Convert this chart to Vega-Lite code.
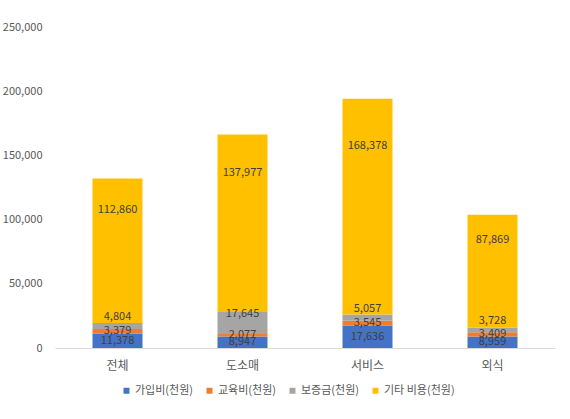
{
  "$schema": "https://vega.github.io/schema/vega-lite/v6.json",
  "width": 500,
  "height": 333,
  "autosize": {"type": "none"},
  "padding": {"left": 55, "top": 15, "right": 15, "bottom": 71},
  "background": "white",
  "config": {
    "font": "Noto Sans CJK KR",
    "view": {"stroke": null}
  },
  "data": {
    "values": [
      {"category": "전체", "series": "가입비(천원)", "order": 1, "value": 11378},
      {"category": "전체", "series": "교육비(천원)", "order": 2, "value": 3379},
      {"category": "전체", "series": "보증금(천원)", "order": 3, "value": 4804},
      {"category": "전체", "series": "기타 비용(천원)", "order": 4, "value": 112860},
      {"category": "도소매", "series": "가입비(천원)", "order": 1, "value": 8947},
      {"category": "도소매", "series": "교육비(천원)", "order": 2, "value": 2077},
      {"category": "도소매", "series": "보증금(천원)", "order": 3, "value": 17645},
      {"category": "도소매", "series": "기타 비용(천원)", "order": 4, "value": 137977},
      {"category": "서비스", "series": "가입비(천원)", "order": 1, "value": 17636},
      {"category": "서비스", "series": "교육비(천원)", "order": 2, "value": 3545},
      {"category": "서비스", "series": "보증금(천원)", "order": 3, "value": 5057},
      {"category": "서비스", "series": "기타 비용(천원)", "order": 4, "value": 168378},
      {"category": "외식", "series": "가입비(천원)", "order": 1, "value": 8959},
      {"category": "외식", "series": "교육비(천원)", "order": 2, "value": 3409},
      {"category": "외식", "series": "보증금(천원)", "order": 3, "value": 3728},
      {"category": "외식", "series": "기타 비용(천원)", "order": 4, "value": 87869}
    ]
  },
  "transform": [
    {"stack": "value", "groupby": ["category"], "sort": [{"field": "order", "order": "ascending"}], "as": ["y0", "y1"]},
    {"calculate": "datum.order == 4 ? datum.y0 + 0.78 * (datum.y1 - datum.y0) : (datum.y0 + datum.y1) / 2", "as": "labelPos"}
  ],
  "encoding": {
    "x": {
      "field": "category",
      "type": "nominal",
      "sort": ["전체", "도소매", "서비스", "외식"],
      "scale": {"paddingInner": 0.6, "paddingOuter": 0.3},
      "axis": {
        "title": null,
        "labelAngle": 0,
        "labelFontSize": 12,
        "labelColor": "#595959",
        "labelPadding": 12,
        "ticks": false,
        "domainColor": "#d9d9d9",
        "domainWidth": 1
      }
    }
  },
  "layer": [
    {
      "mark": {"type": "bar"},
      "encoding": {
        "y": {
          "field": "y0",
          "type": "quantitative",
          "scale": {"domain": [0, 250000]},
          "axis": {
            "title": null,
            "values": [0, 50000, 100000, 150000, 200000, 250000],
            "format": ",d",
            "grid": false,
            "ticks": false,
            "domain": false,
            "labelFontSize": 11,
            "labelColor": "#595959",
            "labelPadding": 13
          }
        },
        "y2": {"field": "y1"},
        "color": {
          "field": "series",
          "type": "nominal",
          "sort": ["가입비(천원)", "교육비(천원)", "보증금(천원)", "기타 비용(천원)"],
          "scale": {
            "domain": ["가입비(천원)", "교육비(천원)", "보증금(천원)", "기타 비용(천원)"],
            "range": ["#4472C4", "#ED7D31", "#A5A5A5", "#FFC000"]
          },
          "legend": {
            "title": null,
            "orient": "none",
            "direction": "horizontal",
            "legendX": 66,
            "legendY": 370,
            "symbolType": "square",
            "symbolSize": 36,
            "symbolStrokeWidth": 0,
            "labelFontSize": 11,
            "labelColor": "#595959",
            "labelOffset": 3,
            "columnPadding": 10
          }
        }
      }
    },
    {
      "transform": [{"filter": "datum.order != 3"}],
      "mark": {"type": "text", "fontSize": 11, "color": "#404040", "baseline": "middle"},
      "encoding": {
        "y": {"field": "labelPos", "type": "quantitative"},
        "text": {"field": "value", "type": "quantitative", "format": ",d"}
      }
    },
    {
      "transform": [{"filter": "datum.order == 3"}],
      "mark": {"type": "text", "fontSize": 11, "color": "#404040", "baseline": "middle", "dy": -9},
      "encoding": {
        "y": {"field": "labelPos", "type": "quantitative"},
        "text": {"field": "value", "type": "quantitative", "format": ",d"}
      }
    }
  ]
}
